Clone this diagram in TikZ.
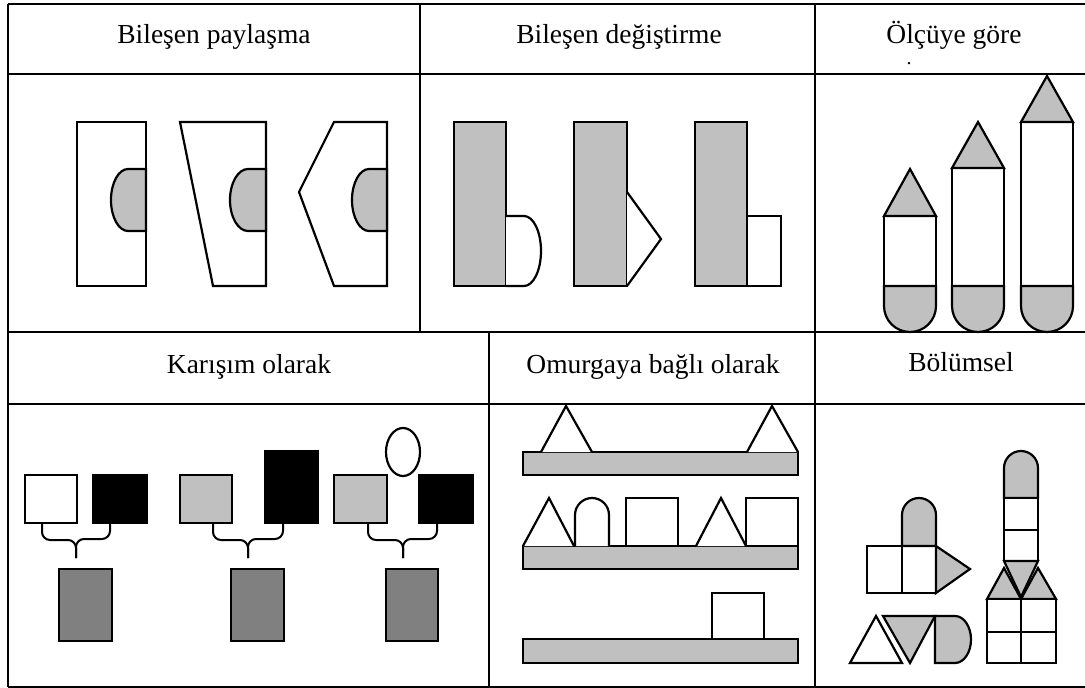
\documentclass[tikz,border=0pt]{standalone}
\usepackage{fontspec}
\setmainfont{Liberation Serif}
\definecolor{lgray}{HTML}{C0C0C0}
\definecolor{dgray}{HTML}{808080}
\tikzset{
	grid/.style={line width=2pt},
	part/.style={draw,line width=2.2pt,fill=white},
	gpart/.style={part,fill=lgray},
	head/.style={font=\fontsize{27.5}{30}\selectfont,inner sep=0pt,anchor=base},
	box/.style={draw,line width=2.2pt,inner sep=0pt,outer sep=0pt,minimum width=#1},
	brc/.style={line width=2pt,rounded corners=8pt}
}
\begin{document}
\begin{tikzpicture}[x=1pt,y=-1pt]
		\useasboundingbox (0,0) rectangle (1085,688);
		% table
		\draw[grid] (8,4) -- (1085,4) (8,74) -- (1085,74) (8,332) -- (1085,332) (8,404) -- (1085,404) (8,687) -- (1085,687);
		\draw[grid] (8,4) -- (8,687) (420,4) -- (420,332) (815,4) -- (815,687) (489,332) -- (489,687);
		\node[head] (hpay) at (214,43) {Bileşen paylaşma};
		\node[head] (hdeg) at (619,43) {Bileşen değiştirme};
		\node[head] (holc) at (954,43) {Ölçüye göre};
		\node[font=\fontsize{20}{20}\selectfont,inner sep=0pt,text height=3pt,text depth=0pt,anchor=base] (hdot) at (909,64) {.};
		\node[head] (hkar) at (249,373) {Karışım olarak};
		\node[head] (homu) at (653,373) {Omurgaya bağlı olarak};
		\node[head] (hbol) at (961,371) {Bölümsel};
		% Bilesen paylasma
		\draw[part] (77,122) rectangle (146,286);
		\draw[gpart] (146,169) -- (128,169) arc[start angle=270,end angle=90,x radius=17,y radius=31] -- (146,231) -- cycle;
		\draw[part] (180,122) -- (266,122) -- (266,286) -- (213,286) -- cycle;
		\draw[gpart] (266,169) -- (248,169) arc[start angle=270,end angle=90,x radius=18,y radius=31] -- (266,231) -- cycle;
		\draw[part] (334,122) -- (387,122) -- (387,286) -- (334,286) -- (299,192) -- cycle;
		\draw[gpart] (387,169) -- (369,169) arc[start angle=270,end angle=90,x radius=17,y radius=31] -- (387,231) -- cycle;
		% Bilesen degistirme
		\draw[gpart] (454,122) rectangle (506,286);
		\draw[part] (506,216) -- (524,216) arc[start angle=270,end angle=450,x radius=17,y radius=35] -- (506,286);
		\draw[gpart] (574,122) rectangle (627,286);
		\draw[part] (627,192) -- (661,239) -- (627,286);
		\draw[gpart] (695,122) rectangle (747,286);
		\draw[part] (747,216) rectangle (781,286);
		% Olcuye gore
		\draw[part] (884,216) rectangle (936,286);
		\draw[gpart] (884,216) -- (910,169) -- (936,216) -- cycle;
		\draw[gpart] (884,286) -- (936,286) -- (936,306) arc[start angle=0,end angle=180,radius=26] -- cycle;
		\draw[part] (952,168) rectangle (1004,286);
		\draw[gpart] (952,168) -- (978,122) -- (1004,168) -- cycle;
		\draw[gpart] (952,286) -- (1004,286) -- (1004,306) arc[start angle=0,end angle=180,radius=26] -- cycle;
		\draw[part] (1021,122) rectangle (1073,286);
		\draw[gpart] (1021,122) -- (1047,76) -- (1073,122) -- cycle;
		\draw[gpart] (1021,286) -- (1073,286) -- (1073,306) arc[start angle=0,end angle=180,radius=26] -- cycle;
		% Karisim olarak
		\node[box=52pt,minimum height=48pt,fill=white] (wa) at (51,499) {};
		\node[box=54pt,minimum height=48pt,fill=black] (ba) at (120,499) {};
		\node[box=53pt,minimum height=72pt,fill=dgray] (ma) at (85.5,605) {};
		\node[box=52pt,minimum height=48pt,fill=lgray] (la) at (206,499) {};
		\node[box=53pt,minimum height=72pt,fill=black] (bb) at (291.5,487) {};
		\node[box=53pt,minimum height=72pt,fill=dgray] (mb) at (257.5,605) {};
		\node[box=53pt,minimum height=48pt,fill=lgray] (lb) at (360.5,499) {};
		\node[box=54pt,minimum height=48pt,fill=black] (bc) at (446,499) {};
		\node[box=52pt,minimum height=72pt,fill=dgray] (mc) at (412,605) {};
		\draw[line width=2.2pt] (403,452) ellipse [x radius=17,y radius=24];
		\draw[brc] ([xshift=-9pt]wa.south) |- ++(34,17) -- ++(0,18);
		\draw[brc] ([xshift=-10pt]ba.south) |- ++(-34,16) -- ++(0,19);
		\draw[brc] ([xshift=7pt]la.south) |- ++(35,17) -- ++(0,18);
		\draw[brc] ([xshift=-8.5pt]bb.south) |- ++(-35,16) -- ++(0,19);
		\draw[brc] ([xshift=7.5pt]lb.south) |- ++(35,17) -- ++(0,18);
		\draw[brc] ([xshift=-9pt]bc.south) |- ++(-34,16) -- ++(0,19);
		% Omurgaya bagli olarak
		\draw[gpart] (523,452) rectangle (798,475);
		\draw[part] (541,452) -- (566,406) -- (592,452);
		\draw[part] (747,452) -- (772,406) -- (798,452);
		\draw[gpart] (523,546) rectangle (798,569);
		\draw[part] (523,546) -- (549,498) -- (574,546);
		\draw[part] (575,546) -- (575,515) arc[start angle=180,end angle=360,radius=17] -- (609,546);
		\draw[part] (626,498) rectangle (678,546);
		\draw[part] (696,546) -- (721,498) -- (746,546);
		\draw[part] (746,498) rectangle (798,546);
		\draw[gpart] (523,639) rectangle (798,663);
		\draw[part] (712,593) rectangle (764,639);
		% Bolumsel
		\draw[part] (867,546) rectangle (902,593) (902,546) rectangle (936,593);
		\draw[gpart] (902,546) -- (902,515) arc[start angle=180,end angle=360,radius=17] -- (936,546) -- cycle;
		\draw[gpart] (936,546) -- (970,569) -- (936,593) -- cycle;
		\draw[part] (850,663) -- (902,663) -- (876,616) -- cycle;
		\draw[gpart] (883,616) -- (935,616) -- (910,663) -- cycle;
		\draw[gpart] (935,616) -- (955,616) arc[start angle=270,end angle=450,x radius=16,y radius=23.5] -- (935,663) -- cycle;
		\draw[gpart] (1004,498) -- (1004,468) arc[start angle=180,end angle=360,radius=17] -- (1038,498) -- cycle;
		\draw[part] (1004,498) rectangle (1038,530) (1004,530) rectangle (1038,561);
		\draw[gpart] (987,599) -- (1004,568) -- (1021,599) -- cycle;
		\draw[gpart] (1021,599) -- (1038,568) -- (1056,599) -- cycle;
		\draw[gpart] (1004,561) -- (1038,561) -- (1021,597) -- cycle;
		\draw[part] (987,599) rectangle (1021,632) (1021,599) rectangle (1056,632) (987,632) rectangle (1021,663) (1021,632) rectangle (1056,663);
	\end{tikzpicture}
\end{document}
